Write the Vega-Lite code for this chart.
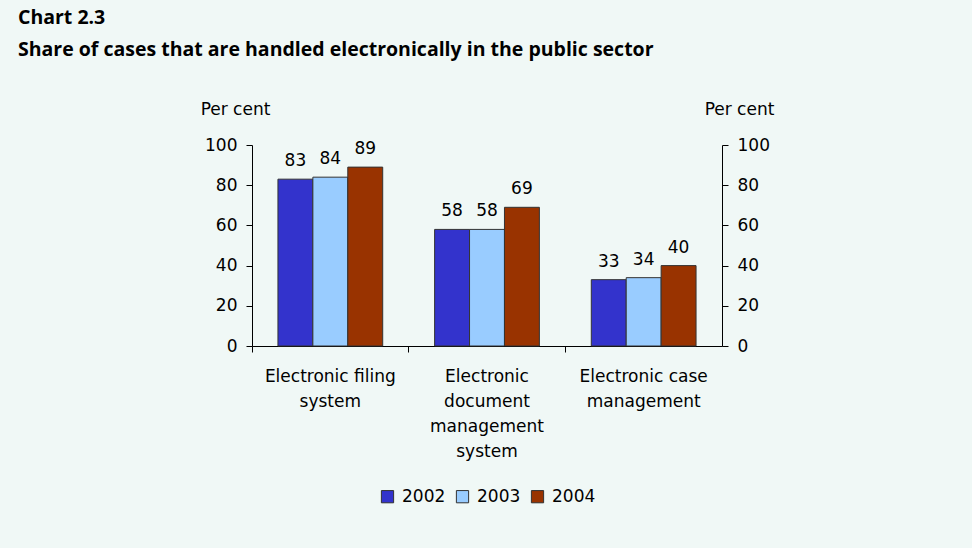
{
  "$schema": "https://vega.github.io/schema/vega-lite/v6.json",
  "width": 470,
  "height": 201,
  "autosize": {"type": "none"},
  "padding": {"left": 252, "top": 145, "right": 250, "bottom": 202},
  "background": "#f0f8f6",
  "title": {
    "text": "Chart 2.3",
    "subtitle": "Share of cases that are handled electronically in the public sector",
    "anchor": "start",
    "frame": "group",
    "dx": -234,
    "offset": 40,
    "font": "Open Sans",
    "fontSize": 19.5,
    "fontWeight": "bold",
    "color": "#000000",
    "subtitleFont": "Open Sans",
    "subtitleFontSize": 19.5,
    "subtitleFontWeight": "bold",
    "subtitleColor": "#000000",
    "subtitlePadding": 12
  },
  "config": {
    "view": {"stroke": null},
    "font": "DejaVu Sans",
    "axis": {
      "grid": false,
      "domainColor": "#000000",
      "tickColor": "#000000",
      "labelColor": "#000000",
      "titleColor": "#000000",
      "labelFont": "DejaVu Sans",
      "titleFont": "DejaVu Sans",
      "labelFontSize": 17,
      "titleFontSize": 17,
      "titleFontWeight": "normal"
    }
  },
  "data": {
    "values": [
      {"category": "Electronic filing system", "year": "2002", "value": 83},
      {"category": "Electronic filing system", "year": "2003", "value": 84},
      {"category": "Electronic filing system", "year": "2004", "value": 89},
      {"category": "Electronic document management system", "year": "2002", "value": 58},
      {"category": "Electronic document management system", "year": "2003", "value": 58},
      {"category": "Electronic document management system", "year": "2004", "value": 69},
      {"category": "Electronic case management", "year": "2002", "value": 33},
      {"category": "Electronic case management", "year": "2003", "value": 34},
      {"category": "Electronic case management", "year": "2004", "value": 40}
    ]
  },
  "encoding": {
    "x": {
      "field": "category",
      "type": "nominal",
      "sort": null,
      "scale": {"paddingInner": 0, "paddingOuter": 0},
      "axis": {
        "title": null,
        "labelAngle": 0,
        "bandPosition": 0,
        "tickSize": 6,
        "labelPadding": 16,
        "labelBaseline": "top",
        "labelLineHeight": 25,
        "labelExpr": "datum.value == 'Electronic filing system' ? ['Electronic filing', 'system'] : datum.value == 'Electronic document management system' ? ['Electronic', 'document', 'management', 'system'] : ['Electronic case', 'management']"
      }
    },
    "xOffset": {
      "field": "year",
      "type": "nominal",
      "scale": {"paddingInner": 0, "paddingOuter": 0.743}
    }
  },
  "layer": [
    {
      "mark": {"type": "bar", "stroke": "#333333", "strokeWidth": 1},
      "encoding": {
        "y": {
          "field": "value",
          "type": "quantitative",
          "scale": {"domain": [0, 100]},
          "axis": {
            "values": [0, 20, 40, 60, 80, 100],
            "title": "Per cent",
            "titleAngle": 0,
            "titleAlign": "center",
            "titleBaseline": "alphabetic",
            "titleX": -17,
            "titleY": -31,
            "tickSize": 6,
            "labelPadding": 9
          }
        },
        "color": {
          "field": "year",
          "type": "nominal",
          "scale": {"domain": ["2002", "2003", "2004"], "range": ["#3333cc", "#99ccff", "#993300"]},
          "legend": {
            "orient": "none",
            "legendX": 127,
            "legendY": 343,
            "direction": "horizontal",
            "title": null,
            "symbolType": "square",
            "symbolSize": 150,
            "symbolStrokeColor": "#333333",
            "symbolStrokeWidth": 1,
            "symbolOpacity": 1,
            "labelFont": "DejaVu Sans",
            "labelFontSize": 17,
            "labelColor": "#000000",
            "labelOffset": 6,
            "columnPadding": 8,
            "padding": 0
          }
        }
      }
    },
    {
      "mark": {"type": "text", "fontSize": 17, "font": "DejaVu Sans", "color": "#000000", "baseline": "alphabetic", "align": "center", "dy": -13},
      "encoding": {
        "y": {
          "field": "value",
          "type": "quantitative",
          "scale": {"domain": [0, 100]},
          "axis": {
            "orient": "right",
            "values": [0, 20, 40, 60, 80, 100],
            "title": "Per cent",
            "titleAngle": 0,
            "titleAlign": "center",
            "titleBaseline": "alphabetic",
            "titleX": 17,
            "titleY": -31,
            "tickSize": 6,
            "labelPadding": 9
          }
        },
        "text": {"field": "value", "type": "quantitative"}
      }
    }
  ],
  "resolve": {"scale": {"y": "independent"}}
}
